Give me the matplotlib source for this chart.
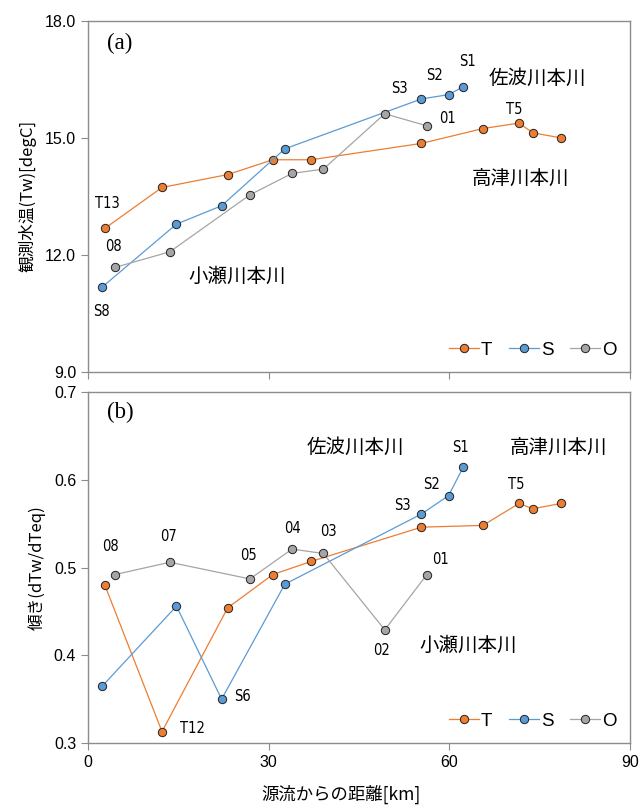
import matplotlib
matplotlib.use('Agg')
import matplotlib.pyplot as plt

plt.rcParams['font.family'] = ['Liberation Sans', 'Noto Sans CJK JP']

# distance from source [km]
t_km = [2.8, 12.3, 23.2, 30.7, 37.1, 55.4, 65.6, 71.6, 73.9, 78.6]
s_km = [2.4, 14.7, 22.2, 32.7, 55.4, 59.9, 62.3]
o_km = [4.5, 13.6, 26.9, 33.9, 39.1, 49.3, 56.3]

# (a) observed water temperature Tw [degC]
t_tw = [12.68, 13.73, 14.06, 14.44, 14.44, 14.86, 15.24, 15.38, 15.13, 15.00]
s_tw = [11.18, 12.79, 13.26, 14.72, 16.00, 16.11, 16.31]
o_tw = [11.68, 12.08, 13.54, 14.09, 14.20, 15.62, 15.31]

# (b) slope dTw/dTeq
t_slope = [0.480, 0.313, 0.454, 0.492, 0.507, 0.546, 0.548, 0.573, 0.567, 0.573]
s_slope = [0.365, 0.456, 0.350, 0.481, 0.561, 0.582, 0.614]
o_slope = [0.492, 0.506, 0.487, 0.521, 0.516, 0.429, 0.492]

series_names = ['T', 'S', 'O']
colors = ['#ED7D31', '#5B9BD5', '#A5A5A5']

jp = ['Noto Sans CJK JP', 'DejaVu Sans']

fig = plt.figure(figsize=(6.42, 8.05), dpi=100)
ax1 = fig.add_axes([0.137, 0.538, 0.844, 0.436])
ax2 = fig.add_axes([0.137, 0.077, 0.844, 0.436])


def draw(ax, ys):
    for xs, y, c, name in zip([t_km, s_km, o_km], ys, colors, series_names):
        ax.plot(xs, y, '-o', color=c, lw=0.9, ms=6, mfc=c, mec='#222222',
                mew=0.7, label=name)
    ax.set_xlim(0, 90)
    ax.set_xticks([0, 30, 60, 90])
    for sp in ax.spines.values():
        sp.set_color('#8c8c8c')
        sp.set_linewidth(1)
    ax.tick_params(direction='out', color='#8c8c8c', length=5, labelsize=11.5)
    ax.legend(loc='lower right', ncol=3, frameon=False, fontsize=13.5,
              handlelength=1.6, handletextpad=0.1, columnspacing=0.9,
              borderaxespad=0.3)


def point_label(ax, s, x, y):
    ax.text(x, y, s, family='DejaVu Sans', fontstretch='condensed',
            fontsize=10.5, ha='center', va='center')


draw(ax1, [t_tw, s_tw, o_tw])
ax1.set_ylim(9, 18)
ax1.set_yticks([9, 12, 15, 18])
ax1.set_yticklabels(['9.0', '12.0', '15.0', '18.0'])
ax1.set_xticklabels([])
ax1.set_ylabel('観測水温(Tw)[degC]', family=jp, fontsize=12, labelpad=6)
ax1.text(0.035, 0.937, '(a)', transform=ax1.transAxes, family='Liberation Serif',
         fontsize=16.5, va='center')

draw(ax2, [t_slope, s_slope, o_slope])
ax2.set_ylim(0.3, 0.7)
ax2.set_yticks([0.3, 0.4, 0.5, 0.6, 0.7])
ax2.set_ylabel('傾き(dTw/dTeq)', family=jp, fontsize=12, labelpad=6)
ax2.set_xlabel('源流からの距離[km]', family=jp, fontsize=12.5)
ax2.xaxis.set_label_coords(0.467, -0.118)
ax2.text(0.035, 0.943, '(b)', transform=ax2.transAxes, family='Liberation Serif',
         fontsize=16.5, va='center')

# point labels
lab_a = [('T13', 3.2, 13.33), ('08', 4.2, 12.21), ('S8', 2.3, 10.54),
         ('S3', 51.8, 16.28), ('S2', 57.5, 16.59), ('S1', 63.0, 16.95),
         ('01', 59.8, 15.49), ('T5', 70.8, 15.72)]
for s, x, y in lab_a:
    point_label(ax1, s, x, y)
ax1.text(24.8, 11.44, '小瀬川本川', family=jp, fontsize=14, ha='center', va='center')
ax1.text(74.7, 16.54, '佐波川本川', family=jp, fontsize=14, ha='center', va='center')
ax1.text(71.8, 13.97, '高津川本川', family=jp, fontsize=14, ha='center', va='center')

lab_b = [('S1', 61.8, 0.637), ('S2', 57.1, 0.595), ('S3', 52.2, 0.571),
         ('T5', 71.1, 0.595), ('01', 58.6, 0.509), ('02', 48.8, 0.406),
         ('08', 3.8, 0.524), ('07', 13.3, 0.535), ('05', 26.7, 0.514),
         ('04', 33.9, 0.545), ('03', 40.0, 0.541), ('S6', 25.6, 0.353),
         ('T12', 17.3, 0.316)]
for s, x, y in lab_b:
    point_label(ax2, s, x, y)
ax2.text(44.4, 0.637, '佐波川本川', family=jp, fontsize=14, ha='center', va='center')
ax2.text(78.1, 0.637, '高津川本川', family=jp, fontsize=14, ha='center', va='center')
ax2.text(63.1, 0.411, '小瀬川本川', family=jp, fontsize=14, ha='center', va='center')

fig.savefig('out.png', dpi=100)
